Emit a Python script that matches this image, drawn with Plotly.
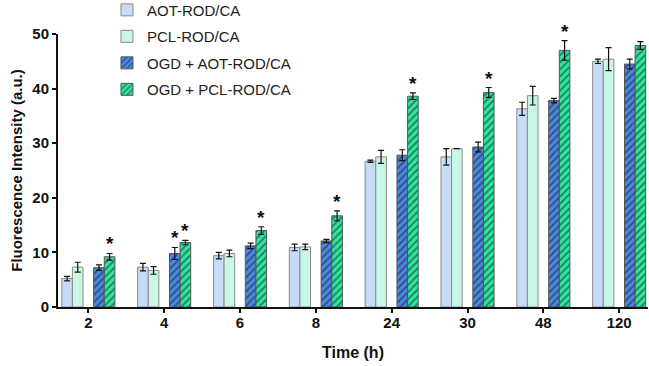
import plotly.graph_objects as go

categories = ["2", "4", "6", "8", "24", "30", "48", "120"]

aot = [5.2, 7.3, 9.4, 10.9, 26.7, 27.5, 36.3, 45.0]
aot_err = [0.4, 0.7, 0.6, 0.6, 0.2, 1.5, 1.2, 0.4]
pcl = [7.3, 6.7, 9.8, 11.0, 27.5, 29.0, 38.7, 45.4]
pcl_err = [0.9, 0.7, 0.6, 0.5, 1.2, 0.0, 1.7, 2.1]
ogd_aot = [7.2, 9.8, 11.2, 12.1, 27.8, 29.3, 37.8, 44.5]
ogd_aot_err = [0.5, 1.1, 0.5, 0.3, 1.0, 0.9, 0.4, 0.9]
ogd_pcl = [9.2, 11.8, 14.0, 16.7, 38.6, 39.3, 47.0, 47.9]
ogd_pcl_err = [0.6, 0.4, 0.7, 0.9, 0.6, 0.9, 1.8, 0.7]

# significance markers: (series index, category index)
stars = [(3, 0), (2, 1), (3, 1), (3, 2), (3, 3), (3, 4), (3, 5), (3, 6)]

names = ["AOT-ROD/CA", "PCL-ROD/CA", "OGD + AOT-ROD/CA", "OGD + PCL-ROD/CA"]
values = [aot, pcl, ogd_aot, ogd_pcl]
errors = [aot_err, pcl_err, ogd_aot_err, ogd_pcl_err]
colors = ["#c6dbf6", "#c9f6e5", "#4a88e2", "#2fe6a0"]
hatched = [False, False, True, True]
offsets = [-0.35, -0.21, 0.07, 0.21]
width = 0.14

fig = go.Figure()
for i in range(4):
    marker = dict(color=colors[i], line=dict(color="#8a8a8a" if not hatched[i] else "#555555", width=1))
    if hatched[i]:
        marker["pattern"] = dict(shape="/", fgcolor="#1a1a1a", bgcolor=colors[i], size=5, solidity=0.35)
    fig.add_trace(go.Bar(
        x=categories, y=values[i], name=names[i],
        offset=offsets[i], width=width,
        marker=marker,
        error_y=dict(type="data", array=errors[i], color="#111111", thickness=1.2, width=3),
        legendgroup=names[i],
    ))

for s, c in stars:
    fig.add_annotation(
        x=c + offsets[s] + width / 2, y=values[s][c] + errors[s][c],
        text="<b>*</b>", showarrow=False, yanchor="bottom", yshift=-3,
        font=dict(size=19, color="#111111", family="Liberation Sans"),
    )

fig.update_layout(
    width=649, height=366,
    margin=dict(l=58, r=1, t=34, b=59, autoexpand=False),
    plot_bgcolor="white", paper_bgcolor="white",
    barmode="overlay",
    font=dict(family="Liberation Sans", color="#111111"),
    showlegend=True,
    legend=dict(x=0.083, y=1.148, xanchor="left", yanchor="top",
                font=dict(size=15, color="#222222"), traceorder="grouped",
                tracegroupgap=4, bgcolor="rgba(0,0,0,0)"),
)
fig.update_xaxes(
    type="category", range=[-0.4, 7.38],
    showline=True, linecolor="#111111", linewidth=2,
    ticks="outside", ticklen=4, tickwidth=2, tickcolor="#111111",
    ticklabelstandoff=-3,
    tickfont=dict(size=15, family="Liberation Sans", weight="bold"),
    title=dict(text="<b>Time (h)</b>", font=dict(size=16), standoff=17),
    showgrid=False,
)
fig.update_yaxes(
    range=[0, 50], tickvals=[0, 10, 20, 30, 40, 50],
    showline=True, linecolor="#111111", linewidth=2,
    ticks="outside", ticklen=4, tickwidth=2, tickcolor="#111111",
    tickfont=dict(size=15, family="Liberation Sans", weight="bold"),
    title=dict(text="<b>Fluorescence Intensity (a.u.)</b>", font=dict(size=15), standoff=6),
    showgrid=False, zeroline=False,
)

fig.write_html("out.html")
